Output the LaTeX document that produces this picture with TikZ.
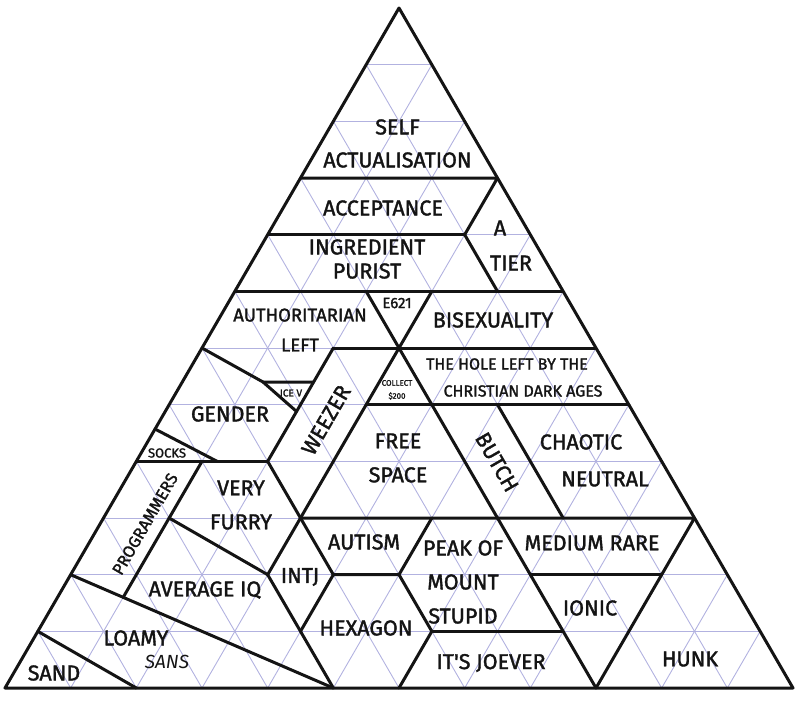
\documentclass[tikz,border=0pt]{standalone}
\usepackage{fontspec}
\setmainfont{Fira Sans}
\newfontfamily\heavy{Fira Sans}[FakeBold=1.6]
\usetikzlibrary{calc}
\definecolor{gridlav}{RGB}{178,178,224}
\definecolor{ink}{RGB}{20,20,20}

\begin{document}
\begin{tikzpicture}[x=1pt,y=-1pt,
	wall/.style={line width=3pt,line join=round,line cap=round,draw=ink},
	lattice/.style={draw=gridlav,line width=0.9pt},
	lbl/.style={align=center,inner sep=0pt,text=ink,font=\heavy\fontsize{21.5}{34}\selectfont}]
	\useasboundingbox (0,0) rectangle (800,702);
	% lattice points, row r from the top, j from the left
	\foreach \r in {0,...,12}
		\foreach \j in {0,...,\r}
			\coordinate (p\j-\r) at ({399+(\j-\r/2)*65.667},{8+\r*56.667});
	\foreach \k [evaluate=\k as \m using int(12-\k)] in {1,...,11}{
		\draw[lattice] (p0-\k) -- (p\k-\k);
		\draw[lattice] (p\k-\k) -- (p\k-12);
		\draw[lattice] (p0-\k) -- (p\m-12);
	}
	\draw[wall] (p0-0) -- (p0-12) -- (p12-12) -- cycle;
	\draw[wall] (p0-3) -- (p3-3) -- (p3-4) -- (p4-5);
	\draw[wall] (p0-4) -- (p3-4);
	\draw[wall] (p0-5) -- (p5-5);
	\draw[wall] (p2-5) -- (p3-6) -- (p3-5);
	\draw[wall] (p2-6) -- (p6-6);
	\draw[wall] (p3-6) -- (p6-9);
	\draw[wall] (p3-6) -- (p3-10);
	\draw[wall] (p2-6) -- (p2-8) -- (p4-10) -- (p5-10) -- (p6-11) -- (p6-12);
	\draw[wall] (p3-10) -- (p5-12);
	\draw[wall] (p4-10) -- (p4-11);
	\draw[wall] (p5-9) -- (p5-10);
	\draw[wall] (p3-7) -- (p7-7);
	\draw[wall] (p5-7) -- (p7-9);
	\draw[wall] (p3-9) -- (p9-9) -- (p9-12);
	\draw[wall] (p6-9) -- (p9-12);
	\draw[wall] (p6-11) -- (p8-11);
	\draw[wall] (p7-10) -- (p9-10);
	% left side, off the lattice
	\draw[wall] (p0-8) -- (p2-8);
	\draw[wall] (p0-10) -- (p5-12);
	\draw[wall] (p1-8) -- ($(p0-10)!0.2!(p5-12)$);
	\draw[wall] (p1-9) -- (p3-10);
	\draw[wall] (p0-11) -- (p2-12);
	\draw[wall] ($(p0-7)!0.43!(p0-8)$) -- ($(p1-8)!0.23!(p2-8)$);
	\coordinate (kink) at (263,382);
	\draw[wall] (p0-6) -- (kink) -- ($(p2-7)!0.12!(p2-8)$);
	\draw[wall] (kink) -- ($(p2-6)!0.6!(p2-7)$);

	\node[lbl,font=\heavy\fontsize{21.5}{33}\selectfont] (selfact) at (397.5,143.5) {SELF\\ACTUALISATION};
	\node[lbl] (accept) at (383,208) {ACCEPTANCE};
	\node[lbl,font=\heavy\fontsize{21.5}{24}\selectfont] (purist) at (367,259) {INGREDIENT\\PURIST};
	\node[lbl] (atop) at (500,228) {A};
	\node[lbl] (tier) at (511,263) {TIER};
	\node[lbl,font=\heavy\fontsize{18.5}{30}\selectfont] (authleft) at (300,330) {AUTHORITARIAN\\LEFT};
	\node[lbl,font=\heavy\fontsize{15}{15}\selectfont] (e621) at (397,303) {E621};
	\node[lbl] (bisex) at (493,320) {BISEXUALITY};
	\node[lbl,font=\heavy\fontsize{16}{16}\selectfont] (hole) at (507,364) {THE HOLE LEFT BY THE};
	\node[lbl,font=\heavy\fontsize{16}{16}\selectfont] (darkages) at (523,391) {CHRISTIAN DARK AGES};
	\node[lbl,font=\heavy\fontsize{8}{13}\selectfont] (collect) at (397,390) {COLLECT\\\$200};
	\node[lbl,font=\heavy\fontsize{10}{10}\selectfont] (icev) at (291,393) {ICE V};
	\node[lbl] (gender) at (230,414) {GENDER};
	\node[lbl,rotate=60] (weezer) at (326,420) {WEEZER};
	\node[lbl,font=\heavy\fontsize{13}{13}\selectfont] (socks) at (167,453) {SOCKS};
	\node[lbl] (free) at (398,458) {FREE\\SPACE};
	\node[lbl,rotate=-60] (butch) at (497,462) {BUTCH};
	\node[lbl] (chaotic) at (581,442) {CHAOTIC};
	\node[lbl] (neutral) at (605,479) {NEUTRAL};
	\node[lbl] (furry) at (241,505) {VERY\\FURRY};
	\node[lbl,rotate=60,font=\heavy\fontsize{16.5}{16.5}\selectfont] (prog) at (145,524) {PROGRAMMERS};
	\node[lbl] (avgiq) at (205,590) {AVERAGE IQ};
	\node[lbl] (intj) at (300,577) {INTJ};
	\node[lbl] (autism) at (364,542) {AUTISM};
	\node[lbl] (stupid) at (463,582) {PEAK OF\\MOUNT\\STUPID};
	\node[lbl] (medium) at (592,543) {MEDIUM RARE};
	\node[lbl] (ionic) at (590,608) {IONIC};
	\node[lbl] (hexagon) at (366,628) {HEXAGON};
	\node[lbl] (joever) at (491,663) {IT'S JOEVER};
	\node[lbl] (hunk) at (690,659) {HUNK};
	\node[lbl] (loamy) at (136,638) {LOAMY};
	\node[lbl,font=\fontsize{19}{19}\selectfont\itshape] (sans) at (167,662) {SANS};
	\node[lbl] (sand) at (54,673) {SAND};
\end{tikzpicture}
\end{document}
